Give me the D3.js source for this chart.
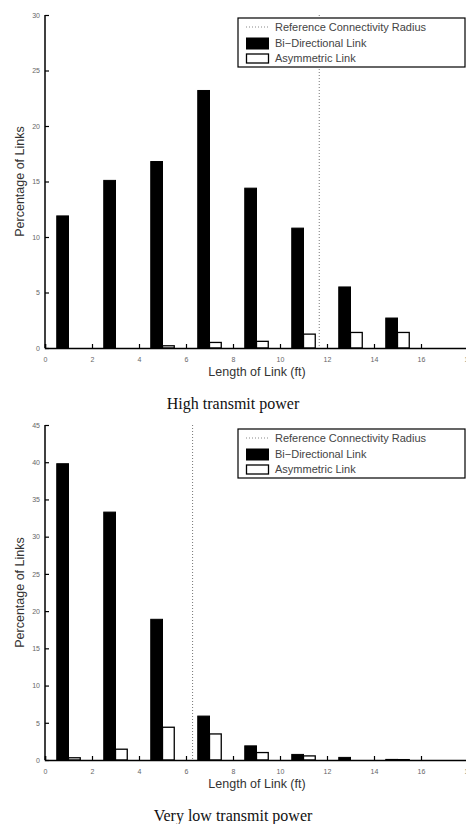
<!DOCTYPE html>
<html>
<head>
<meta charset="utf-8">
<script src="https://cdn.jsdelivr.net/npm/d3@7"></script>
<style>
  body { margin: 0; background: #fff; }
  svg text { font-family: "Liberation Sans", Arial, sans-serif; }
  svg text.caption { font-family: "Liberation Serif", "DejaVu Serif", serif; }
</style>
</head>
<body>
<svg id="chart" width="466" height="824"></svg>
<script>
// bin centres (ft)
const bins = [1, 3, 5, 7, 9, 11, 13, 15, 17];
const xTicks = [0, 2, 4, 6, 8, 10, 12, 14, 16, 18];

// high transmit power
const highBi = [11.9, 15.1, 16.8, 23.2, 14.4, 10.8, 5.5, 2.7, 0];
const highAsym = [0, 0, 0.2, 0.5, 0.6, 1.25, 1.4, 1.4, 0];
const highRadius = 11.67;
const highYTicks = [0, 5, 10, 15, 20, 25, 30];

// very low transmit power
const lowBi = [39.8, 33.3, 18.9, 5.9, 1.9, 0.75, 0.35, 0.08, 0];
const lowAsym = [0.3, 1.45, 4.4, 3.5, 1.0, 0.55, 0, 0.05, 0];
const lowRadius = 6.28;
const lowYTicks = [0, 5, 10, 15, 20, 25, 30, 35, 40, 45];

const legendItems = ["Reference Connectivity Radius", "Bi\u2212Directional Link", "Asymmetric Link"];

const svg = d3.select("#chart");

// 画一个面板
function drawPanel(opt) {
    const x = d3.scaleLinear().domain([0, 18]).range([45, 468]);
    const y = d3.scaleLinear().domain([0, opt.yMax]).range([opt.bottom, opt.top]);
    const g = svg.append("g");

    // bars: black on left half, white on right half of each bin
    g.selectAll(".bi")
        .data(bins.map((b, i) => ({ b, v: opt.bi[i] })).filter(d => d.v > 0))
        .enter().append("rect")
        .attr("x", d => x(d.b - 0.5))
        .attr("width", d => x(d.b) - x(d.b - 0.5))
        .attr("y", d => y(d.v))
        .attr("height", d => y(0) - y(d.v))
        .attr("fill", "#000")
        .attr("stroke", "#000")
        .attr("stroke-width", 1);

    g.selectAll(".asym")
        .data(bins.map((b, i) => ({ b, v: opt.asym[i] })).filter(d => d.v > 0))
        .enter().append("rect")
        .attr("x", d => x(d.b))
        .attr("width", d => x(d.b + 0.5) - x(d.b))
        .attr("y", d => y(d.v))
        .attr("height", d => y(0) - y(d.v))
        .attr("fill", "#fff")
        .attr("stroke", "#000")
        .attr("stroke-width", 1.3);

    // reference radius
    g.append("line")
        .attr("x1", x(opt.radius)).attr("x2", x(opt.radius))
        .attr("y1", opt.top).attr("y2", opt.bottom)
        .attr("stroke", "#777")
        .attr("stroke-width", 1)
        .attr("stroke-dasharray", "1,2");

    // axes (ticks inside)
    const xAxis = g.append("g")
        .attr("transform", `translate(0,${opt.bottom})`)
        .call(d3.axisBottom(x).tickValues(xTicks).tickSize(-4).tickPadding(9).tickFormat(d3.format("d")));
    xAxis.select(".domain").attr("stroke-width", 1.5);
    xAxis.selectAll("line").attr("stroke-width", 1.2);
    xAxis.selectAll("text").attr("font-size", 7).attr("fill", "#666");

    const yAxis = g.append("g")
        .attr("transform", "translate(45,0)")
        .call(d3.axisLeft(y).tickValues(opt.yTicks).tickSize(-4).tickPadding(5).tickFormat(d3.format("d")));
    yAxis.select(".domain").attr("stroke-width", 1.5).attr("d", `M0,${opt.top}V${opt.bottom}`);
    yAxis.selectAll("line").attr("stroke-width", 1.2);
    yAxis.selectAll("text").attr("font-size", 7).attr("fill", "#666");

    // axis titles
    g.append("text")
        .attr("transform", `translate(24,${(opt.top + opt.bottom) / 2}) rotate(-90)`)
        .attr("text-anchor", "middle")
        .attr("font-size", 12.5)
        .attr("fill", "#333")
        .text("Percentage of Links");

    g.append("text")
        .attr("x", 257).attr("y", opt.bottom + 28)
        .attr("text-anchor", "middle")
        .attr("font-size", 12.5)
        .attr("fill", "#333")
        .text("Length of Link (ft)");

    // caption
    g.append("text")
        .attr("class", "caption")
        .attr("x", 233).attr("y", opt.bottom + 61)
        .attr("text-anchor", "middle")
        .attr("font-size", 16)
        .attr("fill", "#111")
        .text(opt.caption);

    // legend
    const lx = 238, ly = opt.top + opt.legendDy;
    const lg = g.append("g").attr("transform", `translate(${lx},${ly})`);
    lg.append("rect")
        .attr("width", 227).attr("height", 49)
        .attr("fill", "#fff").attr("stroke", "#000").attr("stroke-width", 1.2);
    lg.append("line")
        .attr("x1", 8).attr("x2", 31).attr("y1", 9).attr("y2", 9)
        .attr("stroke", "#888").attr("stroke-dasharray", "1,2");
    lg.append("rect")
        .attr("x", 8.5).attr("y", 20).attr("width", 22).attr("height", 11)
        .attr("fill", "#000").attr("stroke", "#000");
    lg.append("rect")
        .attr("x", 8.5).attr("y", 36).attr("width", 22).attr("height", 9)
        .attr("fill", "#fff").attr("stroke", "#000").attr("stroke-width", 1.3);
    lg.selectAll(".lt")
        .data(legendItems)
        .enter().append("text")
        .attr("x", 37)
        .attr("y", (d, i) => 13 + i * 15.5)
        .attr("font-size", 11)
        .attr("fill", "#444")
        .text(d => d);
}

drawPanel({ top: 15, bottom: 348, yMax: 30, yTicks: highYTicks, bi: highBi, asym: highAsym,
    radius: highRadius, caption: "High transmit power", legendDy: 3 });
drawPanel({ top: 425, bottom: 760, yMax: 45, yTicks: lowYTicks, bi: lowBi, asym: lowAsym,
    radius: lowRadius, caption: "Very low transmit power", legendDy: 4 });
</script>
</body>
</html>
